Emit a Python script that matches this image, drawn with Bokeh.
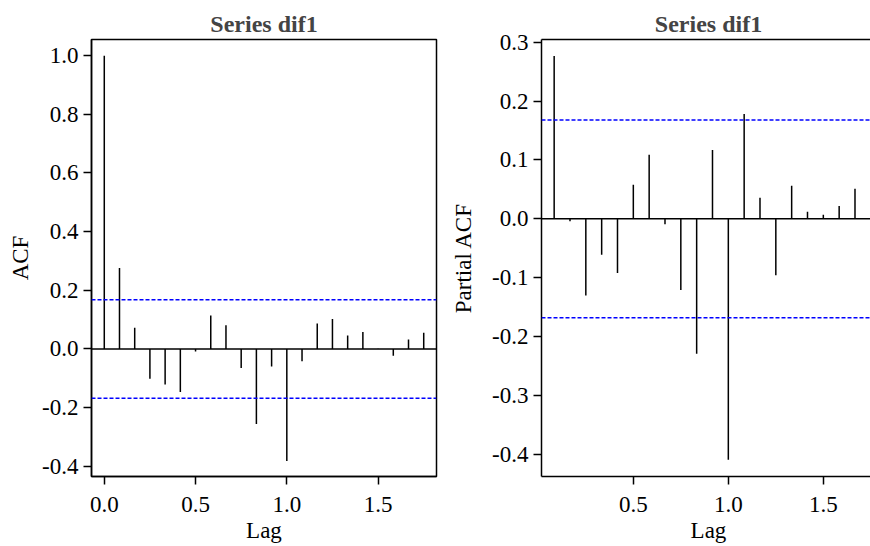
from bokeh.plotting import figure
from bokeh.models import Range1d, FixedTicker, PrintfTickFormatter, LinearAxis, Span
from bokeh.layouts import row
from bokeh.embed import file_html
from bokeh.resources import INLINE

frequency = 12
acf_lag_index = list(range(0, 22))
acf_values = [1.0, 0.276, 0.072, -0.102, -0.121, -0.147, -0.009, 0.114, 0.081,
              -0.065, -0.256, -0.060, -0.382, -0.042, 0.087, 0.102, 0.046, 0.058,
              0.001, -0.023, 0.032, 0.055]
pacf_lag_index = list(range(1, 22))
pacf_values = [0.2765, -0.004, -0.130, -0.061, -0.092, 0.058, 0.109, -0.009,
               -0.121, -0.229, 0.117, -0.409, 0.178, 0.036, -0.096, 0.056,
               0.012, 0.007, 0.022, 0.051, -0.005]
ci = 0.168
title_text = "Series dif1"
acf_yticks = [-0.4, -0.2, 0.0, 0.2, 0.4, 0.6, 0.8, 1.0]
acf_xticks = [0.0, 0.5, 1.0, 1.5]
pacf_yticks = [-0.4, -0.3, -0.2, -0.1, 0.0, 0.1, 0.2, 0.3]
pacf_xticks = [0.5, 1.0, 1.5]

FONT = "Liberation Serif"
FS = "23px"
LW = 1.5


def style(p, xticks, yticks, ylabel, ylabel_standoff):
    p.title.text_font = FONT
    p.title.text_font_size = "24px"
    p.title.text_font_style = "bold"
    p.title.align = "center"
    p.title.standoff = 6
    p.title.text_line_height = 0.85
    p.grid.visible = False
    p.background_fill_color = "white"
    p.border_fill_color = "white"
    for ax in (p.xaxis[0], p.yaxis[0]):
        ax.major_label_text_font = FONT
        ax.major_label_text_font_size = FS
        ax.major_label_text_color = "black"
        ax.axis_label_text_font = FONT
        ax.axis_label_text_font_size = FS
        ax.axis_label_text_font_style = "normal"
        ax.axis_label_text_color = "black"
        ax.major_tick_out = 8
        ax.major_tick_in = 0
        ax.minor_tick_out = 0
        ax.minor_tick_in = 0
        ax.major_tick_line_width = LW
        ax.axis_line_width = LW
        ax.major_tick_line_color = "black"
        ax.axis_line_color = "black"
        ax.formatter = PrintfTickFormatter(format="%.1f")
    p.xaxis[0].major_label_standoff = 12
    p.xaxis[0].axis_label_standoff = 3
    p.yaxis[0].major_label_standoff = 5
    p.yaxis[0].axis_label_standoff = ylabel_standoff
    p.xaxis[0].ticker = FixedTicker(ticks=xticks)
    p.yaxis[0].ticker = FixedTicker(ticks=yticks)
    p.yaxis[0].major_label_orientation = "horizontal"
    p.xaxis[0].axis_label = "Lag"
    p.yaxis[0].axis_label = ylabel


def add_marks(p, lags, vals):
    x = [k / frequency for k in lags]
    p.segment(x0=x, y0=[0] * len(x), x1=x, y1=vals, line_color="black", line_width=LW)
    p.add_layout(Span(location=0, dimension="width", line_color="black", line_width=LW))
    for s in (ci, -ci):
        p.add_layout(Span(location=s, dimension="width", line_color="#0000FF",
                          line_width=1.5, line_dash="4 2"))


# ACF panel
p1 = figure(frame_width=345, frame_height=437, output_backend="svg", toolbar_location=None,
            x_range=Range1d(-0.07, 1.82), y_range=Range1d(-0.435, 1.055),
            min_border_left=91, min_border_right=12, min_border_top=39, min_border_bottom=70,
            title=title_text)
p1.outline_line_color = "black"
p1.outline_line_width = LW
style(p1, acf_xticks, acf_yticks, "ACF", 6)
add_marks(p1, acf_lag_index, acf_values)

# PACF panel
p2 = figure(frame_width=334, frame_height=437, output_backend="svg", toolbar_location=None,
            x_range=Range1d(0.0167, 1.7746), y_range=Range1d(-0.4375, 0.3045),
            min_border_left=88, min_border_right=0, min_border_top=39, min_border_bottom=70,
            title=title_text)
p2.outline_line_color = None
style(p2, pacf_xticks, pacf_yticks, "Partial ACF", 13)
top = LinearAxis(ticker=FixedTicker(ticks=[]), major_label_text_font_size="0px",
                 major_tick_out=0, major_tick_in=0, minor_tick_out=0, minor_tick_in=0,
                 axis_line_color="black", axis_line_width=LW, major_label_standoff=0)
p2.add_layout(top, "above")
add_marks(p2, pacf_lag_index, pacf_values)

layout = row(p1, p2)
open("out.html", "w").write(file_html(layout, INLINE))
